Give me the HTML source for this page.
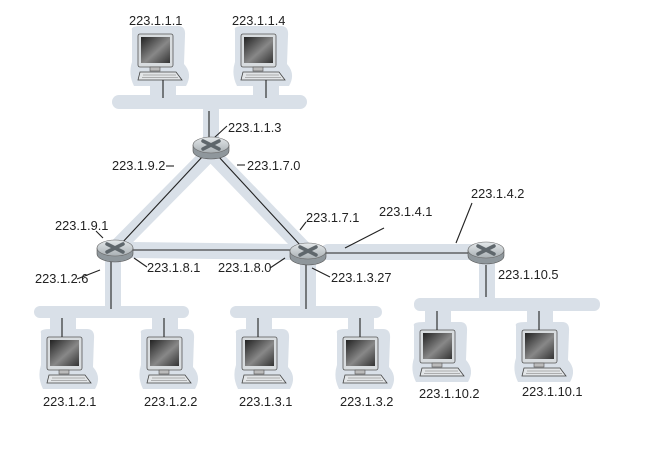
<!DOCTYPE html>
<html><head><style>
html,body{margin:0;padding:0;background:#fff;width:662px;height:471px;overflow:hidden}
text{font-family:"Liberation Sans",sans-serif;font-size:12.8px;fill:#222}
</style></head><body>
<svg width="662" height="471" viewBox="0 0 662 471" xmlns="http://www.w3.org/2000/svg">
<defs>
<linearGradient id="scr" x1="0" y1="0" x2="1" y2="1">
<stop offset="0" stop-color="#222"/><stop offset="0.55" stop-color="#888"/><stop offset="1" stop-color="#333"/>
</linearGradient>
<linearGradient id="rt" x1="0" y1="0" x2="0" y2="1">
<stop offset="0" stop-color="#e4e8ea"/><stop offset="1" stop-color="#a9b0b4"/>
</linearGradient>
<g id="pc">
<path d="M-6,-4 Q-8,-8 4,-8 L40,-8 Q48,-8 47,2 L46,30 Q55,40 48,52 L-4,52 Q-10,40 -6,28 Z" fill="#d9e0e8"/>
<rect x="0" y="0" width="35" height="33" rx="2" fill="#d8dcdf" stroke="#555" stroke-width="0.8"/>
<rect x="3" y="3" width="29" height="26" fill="url(#scr)"/>
<rect x="12" y="33" width="10" height="4" fill="#bbb" stroke="#555" stroke-width="0.6"/>
<path d="M2,38 L38,38 L44,46 L0,46 Z" fill="#e2e5e7" stroke="#444" stroke-width="0.8"/>
<line x1="5" y1="41" x2="38" y2="41" stroke="#777" stroke-width="0.6"/>
<line x1="4" y1="43.5" x2="40" y2="43.5" stroke="#777" stroke-width="0.6"/>
</g>
<g id="rtr">
<path d="M-18,0 L-18,6 A18,8 0 0 0 18,6 L18,0 Z" fill="#8f979c" stroke="#555" stroke-width="0.6"/>
<ellipse cx="0" cy="0" rx="18" ry="8" fill="url(#rt)" stroke="#666" stroke-width="0.6"/>
<path d="M-8,-4 L8,4 M8,-4 L-8,4" stroke="#5f676c" stroke-width="3.5" stroke-linecap="round"/>
</g>
</defs>

<g stroke="#d9e0e8" stroke-width="16" stroke-linecap="round" fill="none">
<line x1="205" y1="158" x2="118" y2="246"/>
<line x1="216" y1="158" x2="303" y2="248"/>
<line x1="132" y1="250" x2="290" y2="252"/>
<line x1="328" y1="252" x2="470" y2="252"/>
<line x1="211" y1="110" x2="211" y2="140"/>
<line x1="113" y1="258" x2="113" y2="305"/>
<line x1="308" y1="260" x2="308" y2="305"/>
<line x1="487" y1="260" x2="487" y2="298"/>
</g>
<g fill="#d9e0e8">
<rect x="112" y="95" width="195" height="14" rx="7"/>
<rect x="34" y="306" width="155" height="12" rx="6"/>
<rect x="230" y="306" width="152" height="12" rx="6"/>
<rect x="414" y="298" width="186" height="13" rx="6"/>
<rect x="150" y="85" width="26" height="15"/>
<rect x="253" y="85" width="26" height="15"/>
<rect x="50" y="314" width="26" height="20"/>
<rect x="152" y="314" width="26" height="20"/>
<rect x="246" y="314" width="26" height="20"/>
<rect x="348" y="314" width="26" height="20"/>
<rect x="425" y="307" width="26" height="20"/>
<rect x="527" y="307" width="26" height="20"/>
</g>

<use href="#pc" x="138" y="34"/>
<use href="#pc" x="241" y="34"/>
<use href="#pc" x="47" y="337"/>
<use href="#pc" x="147" y="337"/>
<use href="#pc" x="242" y="337"/>
<use href="#pc" x="343" y="337"/>
<use href="#pc" x="420" y="330"/>
<use href="#pc" x="522" y="330"/>

<g stroke="#222" stroke-width="1.1" fill="none">
<line x1="163" y1="80" x2="163" y2="98"/>
<line x1="266" y1="80" x2="266" y2="98"/>
<line x1="209" y1="111" x2="209" y2="140"/>
<line x1="203" y1="156" x2="121" y2="244"/>
<line x1="218" y1="156" x2="301" y2="246"/>
<line x1="131" y1="250" x2="290" y2="250"/>
<line x1="326" y1="253" x2="470" y2="253"/>
<line x1="111" y1="262" x2="111" y2="309"/>
<line x1="306" y1="265" x2="306" y2="309"/>
<line x1="486" y1="265" x2="486" y2="297"/>
<line x1="62" y1="318" x2="62" y2="337"/>
<line x1="164" y1="318" x2="164" y2="337"/>
<line x1="258" y1="318" x2="258" y2="337"/>
<line x1="360" y1="318" x2="360" y2="337"/>
<line x1="437" y1="311" x2="437" y2="330"/>
<line x1="539" y1="311" x2="539" y2="330"/>
<line x1="227" y1="126" x2="214" y2="138"/>
<line x1="166" y1="166" x2="174" y2="166"/>
<line x1="237" y1="165" x2="245" y2="165"/>
<line x1="96" y1="231" x2="103" y2="238"/>
<line x1="77" y1="279" x2="100" y2="270"/>
<line x1="147" y1="267" x2="134" y2="258"/>
<line x1="270" y1="268" x2="285" y2="258"/>
<line x1="306" y1="222" x2="300" y2="230"/>
<line x1="345" y1="248" x2="384" y2="228"/>
<line x1="472" y1="203" x2="456" y2="243"/>
<line x1="330" y1="277" x2="312" y2="268"/>
</g>

<use href="#rtr" x="211" y="145"/>
<use href="#rtr" x="115" y="248"/>
<use href="#rtr" x="308" y="251"/>
<use href="#rtr" x="486" y="250"/>

<text x="129" y="25">223.1.1.1</text>
<text x="232" y="25">223.1.1.4</text>
<text x="228" y="132">223.1.1.3</text>
<text x="112" y="170">223.1.9.2</text>
<text x="247" y="170">223.1.7.0</text>
<text x="55" y="230">223.1.9.1</text>
<text x="35" y="283">223.1.2.6</text>
<text x="147" y="272">223.1.8.1</text>
<text x="218" y="272">223.1.8.0</text>
<text x="306" y="222">223.1.7.1</text>
<text x="379" y="216">223.1.4.1</text>
<text x="471" y="198">223.1.4.2</text>
<text x="331" y="282">223.1.3.27</text>
<text x="498" y="279">223.1.10.5</text>
<text x="43" y="406">223.1.2.1</text>
<text x="144" y="406">223.1.2.2</text>
<text x="239" y="406">223.1.3.1</text>
<text x="340" y="406">223.1.3.2</text>
<text x="419" y="398">223.1.10.2</text>
<text x="522" y="396">223.1.10.1</text>
</svg>
</body></html>
